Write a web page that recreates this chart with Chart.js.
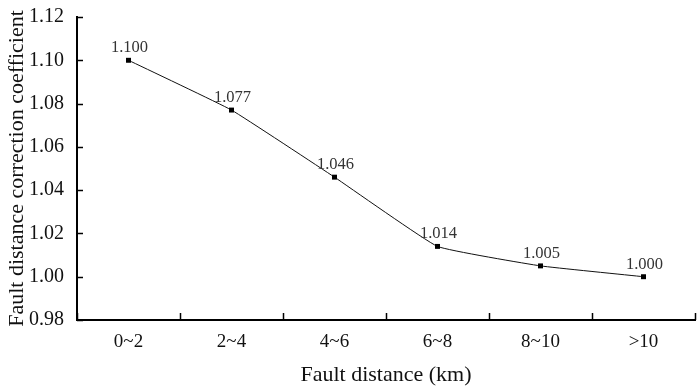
<!DOCTYPE html>
<html>
<head>
<meta charset="utf-8">
<script src="https://cdn.jsdelivr.net/npm/chart.js@4/dist/chart.umd.min.js"></script>
<style>
  html, body { margin: 0; padding: 0; background: #fff; }
  #wrap { width: 699px; height: 388px; }
</style>
</head>
<body>
<div id="wrap"><canvas id="c" width="699" height="388"></canvas></div>
<script>
const categories = ['0~2', '2~4', '4~6', '6~8', '8~10', '>10'];
const coefficients = [1.100, 1.077, 1.046, 1.014, 1.005, 1.000];
const yTicks = [0.98, 1.00, 1.02, 1.04, 1.06, 1.08, 1.10, 1.12];

const serif = '"Liberation Serif", "Times New Roman", serif';

// inward tick marks on both axes + value labels above points
const axisDecor = {
    id: 'axisDecor',
    afterDatasetsDraw(chart) {
        const ctx = chart.ctx;
        const x = chart.scales.x, y = chart.scales.y;
        const area = chart.chartArea;
        ctx.save();
        ctx.strokeStyle = '#000';
        ctx.lineWidth = 1.5;
        ctx.beginPath();
        yTicks.forEach(v => {
            const py = Math.round(y.getPixelForValue(v)) + 0.5;
            ctx.moveTo(area.left, py);
            ctx.lineTo(area.left + 6, py);
        });
        for (let i = 0; i <= categories.length; i++) {
            const px = Math.round(x.getPixelForValue(i - 0.5)) + 0.5;
            ctx.moveTo(px, area.bottom);
            ctx.lineTo(px, area.bottom - 7);
        }
        ctx.stroke();

        const meta = chart.getDatasetMeta(0);
        ctx.fillStyle = '#333';
        ctx.font = '16.5px ' + serif;
        ctx.textAlign = 'center';
        ctx.textBaseline = 'bottom';
        meta.data.forEach((pt, i) => {
            ctx.fillText(coefficients[i].toFixed(3), pt.x + 1, pt.y - 4);
        });
        ctx.restore();
    }
};

new Chart(document.getElementById('c'), {
    type: 'line',
    data: {
        labels: categories,
        datasets: [{
            data: coefficients,
            borderColor: '#111',
            borderWidth: 1,
            backgroundColor: '#000',
            pointStyle: 'rect',
            pointRadius: 3.5,
            pointBorderWidth: 0,
            tension: 0.1,
            fill: false
        }]
    },
    options: {
        responsive: false,
        animation: false,
        layout: { padding: { top: 13, right: 2, left: 4, bottom: 0 } },
        plugins: { legend: { display: false }, tooltip: { enabled: false } },
        scales: {
            x: {
                offset: true,
                grid: { display: false },
                border: { display: true, color: '#000', width: 2 },
                ticks: { color: '#111', font: { family: serif, size: 19 }, padding: 3 },
                title: {
                    display: true, text: 'Fault distance (km)', color: '#111',
                    font: { family: serif, size: 22 }, padding: { top: 4, bottom: 0 }
                },
                afterFit(scale) { scale.height = 68; }
            },
            y: {
                min: 0.98, max: 1.12,
                grid: { display: false },
                border: { display: true, color: '#000', width: 2 },
                afterBuildTicks(scale) { scale.ticks = yTicks.map(v => ({ value: v })); },
                ticks: {
                    color: '#111', font: { family: serif, size: 20 }, padding: 5,
                    callback: v => v.toFixed(2)
                },
                title: {
                    display: true, text: 'Fault distance correction coefficient', color: '#111',
                    font: { family: serif, size: 22 }, padding: { top: 0, bottom: 2 }
                },
                afterFit(scale) { scale.width = 73; }
            }
        }
    },
    plugins: [axisDecor]
});
</script>
</body>
</html>
